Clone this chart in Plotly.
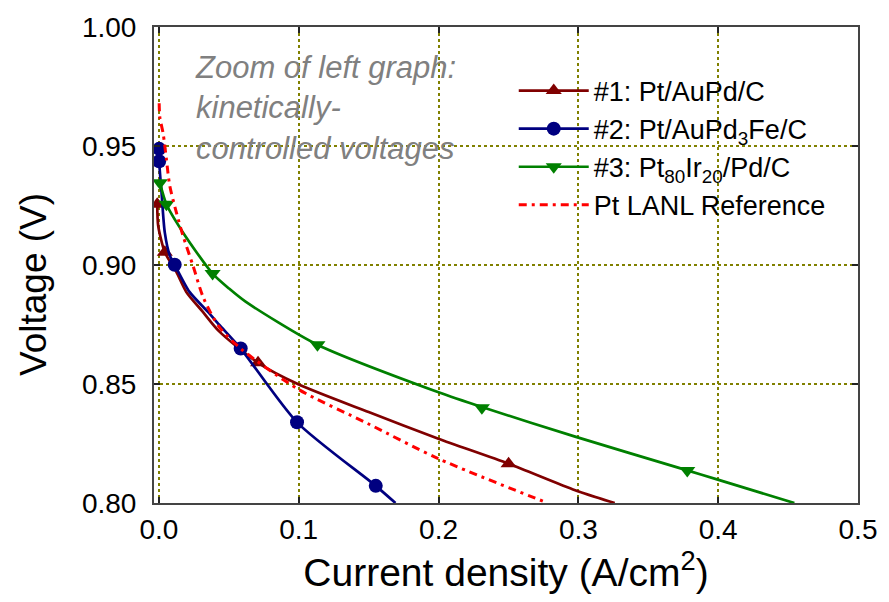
import plotly.graph_objects as go

# ---- data ----
# Series 1: Pt/AuPd/C
s1_line_x = [-0.0012, -0.0005, 0.0042, 0.0125, 0.0196, 0.0313, 0.0431, 0.0709, 0.0997, 0.15, 0.1999, 0.2501, 0.2977, 0.3260]
s1_line_y = [0.9255, 0.9165, 0.9054, 0.8971, 0.8887, 0.8804, 0.8721, 0.8589, 0.8499, 0.8382, 0.8270, 0.8165, 0.8054, 0.8000]
s1_mark_x = [-0.0012, 0.0042, 0.0709, 0.2501]
s1_mark_y = [0.9255, 0.9054, 0.8589, 0.8165]

# Series 2: Pt/AuPd3Fe/C
s2_line_x = [0.0002, 0.0002, 0.0019, 0.0042, 0.0078, 0.0113, 0.0219, 0.0349, 0.0431, 0.0585, 0.0988, 0.1551, 0.1692]
s2_line_y = [0.9488, 0.9436, 0.9304, 0.9137, 0.9040, 0.9001, 0.8887, 0.8804, 0.8749, 0.8649, 0.8339, 0.8072, 0.8000]
s2_mark_x = [0.0002, 0.0002, 0.0113, 0.0585, 0.0988, 0.1551]
s2_mark_y = [0.9488, 0.9436, 0.9001, 0.8649, 0.8339, 0.8072]

# Series 3: Pt80Ir20/Pd/C
s3_line_x = [0.0007, 0.0054, 0.0172, 0.0384, 0.0502, 0.0620, 0.1134, 0.2000, 0.2310, 0.2977, 0.3779, 0.4003, 0.4545]
s3_line_y = [0.9346, 0.9255, 0.9137, 0.8964, 0.8901, 0.8846, 0.8665, 0.8465, 0.8403, 0.8279, 0.8137, 0.8097, 0.8000]
s3_mark_x = [0.0007, 0.0054, 0.0384, 0.1134, 0.2310, 0.3779]
s3_mark_y = [0.9346, 0.9255, 0.8964, 0.8665, 0.8400, 0.8137]

# Pt LANL Reference
ref_x = [0.0002, 0.0007, 0.0030, 0.0054, 0.0078, 0.0125, 0.0172, 0.0243, 0.0320, 0.0431, 0.0585, 0.0997, 0.1500, 0.2000, 0.2780]
ref_y = [0.9680, 0.9620, 0.9554, 0.9443, 0.9332, 0.9221, 0.9124, 0.8999, 0.8860, 0.8740, 0.8649, 0.8478, 0.8332, 0.8186, 0.8000]

x_tick_vals = [0.0, 0.1, 0.2, 0.3, 0.4, 0.5]
x_tick_text = ["0.0", "0.1", "0.2", "0.3", "0.4", "0.5"]
y_tick_vals = [0.80, 0.85, 0.90, 0.95, 1.00]
y_tick_text = ["0.80", "0.85", "0.90", "0.95", "1.00"]

names = ["#1: Pt/AuPd/C", "#2: Pt/AuPd<sub>3</sub>Fe/C",
         "#3: Pt<sub>80</sub>Ir<sub>20</sub>/Pd/C", "Pt LANL Reference"]

MAROON = "#800000"
NAVY = "#000080"
GREEN = "#008000"
RED = "#FF0000"
REF_DASH = "8px,5px,3px,5px"
FONT = "Arial, Liberation Sans"

fig = go.Figure()

series = [
    (s1_line_x, s1_line_y, s1_mark_x, s1_mark_y, MAROON, "triangle-up", names[0]),
    (s2_line_x, s2_line_y, s2_mark_x, s2_mark_y, NAVY, "circle", names[1]),
    (s3_line_x, s3_line_y, s3_mark_x, s3_mark_y, GREEN, "triangle-down", names[2]),
]

for lx, ly, mx, my, col, sym, nm in series:
    fig.add_trace(go.Scatter(x=lx, y=ly, mode="lines",
                             line=dict(color=col, width=2.7, shape="spline", smoothing=0.7),
                             showlegend=False, hoverinfo="skip"))
    fig.add_trace(go.Scatter(x=mx, y=my, mode="markers",
                             marker=dict(color=col, symbol=sym, size=14),
                             showlegend=False))

fig.add_trace(go.Scatter(x=ref_x, y=ref_y, mode="lines",
                         line=dict(color=RED, width=3, dash=REF_DASH, shape="spline", smoothing=0.8),
                         showlegend=False))

# legend-only entries
for lx, ly, mx, my, col, sym, nm in series:
    fig.add_trace(go.Scatter(x=[None], y=[None], mode="lines+markers", name=nm,
                             line=dict(color=col, width=2.7),
                             marker=dict(color=col, symbol=sym, size=14)))
fig.add_trace(go.Scatter(x=[None], y=[None], mode="lines", name=names[3],
                         line=dict(color=RED, width=3, dash=REF_DASH)))

axis_common = dict(
    showline=True, linecolor="#444444", linewidth=2, mirror="allticks",
    ticks="inside", ticklen=6, tickwidth=1.5, tickcolor="#222222",
    showgrid=True, gridcolor="rgb(128,128,0)", griddash="dot", gridwidth=2,
    zeroline=False,
    tickfont=dict(family=FONT, size=28, color="black"),
)

fig.update_xaxes(range=[-0.0035, 0.5], tickvals=x_tick_vals, ticktext=x_tick_text,
                 title=dict(text="Current density (A/cm<sup>2</sup>)",
                            font=dict(family=FONT, size=39, color="black"),
                            standoff=12),
                 **axis_common)
fig.update_yaxes(range=[0.80, 1.00], tickvals=y_tick_vals, ticktext=y_tick_text,
                 ticklabelstandoff=10,
                 **axis_common)

# y-axis title placed as rotated text
fig.add_annotation(text="Voltage (V)", textangle=-90,
                   xref="paper", yref="paper", x=-0.172, y=0.460,
                   xanchor="center", yanchor="middle", showarrow=False,
                   font=dict(family=FONT, size=37, color="black"))

fig.add_annotation(text="Zoom of left graph:<br>kinetically-<br>controlled voltages",
                   xref="paper", yref="paper", x=0.056, y=0.955,
                   xanchor="left", yanchor="top", align="left", showarrow=False,
                   font=dict(family=FONT, size=31, color="#808080", style="italic"))

fig.update_layout(
    width=889, height=602,
    margin=dict(l=154, r=24, t=23, b=99),
    paper_bgcolor="white", plot_bgcolor="white",
    legend=dict(x=0.511, y=0.917, xanchor="left", yanchor="top",
                bgcolor="rgba(0,0,0,0)", borderwidth=0,
                font=dict(family=FONT, size=27, color="black"),
                tracegroupgap=0, itemwidth=70),
    font=dict(family=FONT),
)

fig.write_html("out.html")
